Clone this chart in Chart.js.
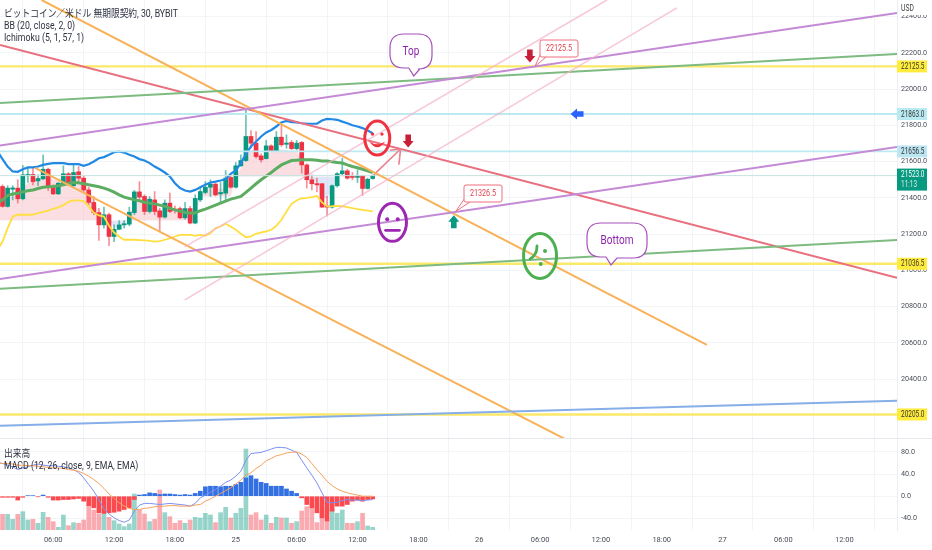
<!DOCTYPE html>
<html><head><meta charset="utf-8">
<style>
html,body{margin:0;padding:0;background:#fff;width:932px;height:550px;overflow:hidden}
canvas{position:absolute;left:0}
.t{position:absolute;left:4px;font:10.4px/11px Roboto,"Noto Sans CJK JP",sans-serif;height:11px;color:#2f3340;white-space:nowrap;z-index:5;transform:scaleX(.84);transform-origin:left center}
</style>
<script src="https://cdn.jsdelivr.net/npm/chart.js@4"></script>
</head><body>
<canvas id="main" width="932" height="438" style="top:0"></canvas>
<canvas id="sub" width="932" height="112" style="top:438px"></canvas>
<div class="t" style="top:8px;">ビットコイン／米ドル 無期限契約, 30, BYBIT</div>
<div class="t" style="top:20px;">BB (20, close, 2, 0)</div>
<div class="t" style="top:32px;">Ichimoku (5, 1, 57, 1)</div>
<div class="t" style="top:448px;">出来高</div>
<div class="t" style="top:460px;">MACD (12, 26, close, 9, EMA, EMA)</div>
<script>
const firstBar=-46;
const opens=[21463,21353,21448,21454,21395,21522,21529,21494,21505,21558,21459,21422,21478,21533,21467,21544,21509,21444,21375,21319,21251,21307,21187,21227,21251,21255,21319,21433,21408,21325,21389,21329,21294,21371,21338,21341,21290,21341,21261,21389,21430,21459,21476,21422,21426,21513,21459,21577,21606,21739,21702,21632,21617,21687,21661,21735,21696,21706,21672,21706,21582,21500,21478,21478,21356,21349,21467,21533,21549,21518,21513,21522,21452,21507];
const highs=[21472,21467,21467,21500,21579,21564,21564,21527,21638,21564,21472,21485,21577,21540,21581,21573,21522,21459,21408,21343,21349,21316,21251,21275,21275,21349,21441,21490,21417,21408,21435,21343,21389,21426,21356,21349,21375,21353,21417,21459,21490,21500,21481,21485,21551,21522,21595,21638,21886,21772,21766,21643,21717,21693,21766,21803,21748,21717,21717,21711,21588,21527,21509,21481,21408,21472,21540,21619,21558,21540,21555,21525,21509,21527];
const lows=[21349,21349,21389,21371,21389,21485,21472,21467,21500,21441,21419,21419,21467,21467,21463,21490,21435,21362,21307,21165,21233,21136,21159,21224,21233,21246,21307,21389,21307,21316,21307,21215,21288,21319,21316,21286,21283,21257,21257,21380,21422,21408,21411,21375,21389,21454,21454,21573,21601,21674,21619,21597,21614,21656,21656,21684,21674,21665,21665,21536,21454,21444,21435,21349,21301,21343,21459,21527,21503,21500,21485,21413,21448,21503];
const closes=[21353,21454,21455,21395,21527,21529,21490,21507,21558,21463,21422,21481,21533,21481,21540,21509,21444,21375,21319,21251,21307,21187,21227,21251,21255,21321,21433,21404,21325,21393,21325,21294,21371,21325,21330,21290,21341,21261,21397,21435,21459,21476,21417,21430,21509,21459,21577,21606,21739,21702,21628,21610,21687,21661,21735,21693,21702,21672,21702,21582,21500,21478,21472,21349,21349,21467,21533,21549,21509,21513,21522,21452,21503,21523];
const bbUpper=[21656,21614,21573,21546,21544,21558,21568,21568,21573,21582,21588,21592,21592,21592,21586,21586,21586,21577,21586,21601,21619,21625,21638,21652,21656,21650,21638,21628,21614,21606,21592,21573,21558,21540,21518,21481,21454,21441,21435,21444,21459,21472,21485,21490,21496,21503,21533,21551,21592,21643,21684,21711,21739,21761,21775,21794,21816,21825,21818,21816,21812,21810,21809,21809,21827,21836,21834,21831,21821,21812,21801,21794,21785,21772,21757];
const bbBasis=[21371,21389,21413,21421,21426,21433,21439,21444,21452,21459,21461,21463,21467,21472,21479,21485,21483,21478,21472,21467,21461,21454,21444,21432,21417,21404,21397,21389,21384,21376,21371,21367,21360,21353,21343,21334,21327,21319,21316,21316,21329,21338,21349,21360,21371,21382,21393,21400,21408,21430,21454,21478,21500,21520,21540,21562,21582,21595,21606,21608,21610,21610,21610,21608,21604,21603,21599,21595,21592,21582,21573,21566,21558,21549,21540];
const conversionLine=[21113,21159,21233,21297,21307,21307,21307,21308,21316,21323,21330,21340,21347,21360,21378,21386,21386,21382,21353,21319,21303,21297,21246,21209,21187,21169,21169,21169,21167,21165,21163,21159,21161,21169,21176,21187,21196,21196,21196,21191,21196,21191,21205,21233,21242,21257,21242,21224,21202,21183,21187,21202,21209,21215,21224,21246,21279,21325,21367,21386,21398,21400,21404,21411,21375,21353,21354,21356,21354,21349,21343,21338,21334,21330,21325];
const spanA=[21380,21389,21398,21408,21417,21459,21481,21500,21503,21527,21527,21500,21500,21527,21527,21527,21527,21500,21444,21389,21316,21307,21279,21233,21239,21251,21307,21371,21389,21380,21362,21362,21316,21334,21343,21334,21316,21316,21307,21353,21408,21444,21467,21459,21448,21467,21481,21518,21564,21638,21665,21661,21628,21638,21656,21674,21665,21665,21656,21656,21610,21527,21500,21485,21398,21398,21444,21509,21527,21518,21514,21518,21510,21515,21518];
const spanB=[21275,21275,21275,21275,21275,21275,21275,21275,21275,21275,21275,21275,21275,21275,21275,21275,21275,21275,21275,21275,21275,21275,21275,21275,21275,21275,21275,21275,21275,21275,21275,21275,21275,21275,21275,21275,21275,21275,21275,21275,21408,21408,21408,21408,21408,21408,21408,21518,21518,21518,21518,21518,21518,21518,21518,21518,21518,21518,21518,21518,21518,21518,21518,21518,21518,21518,21518,21518,21518,21518,21518,21518,21518,21518,21518];
const volumes=[47,47,32,47,55,30,32,20,53,38,25,8,45,13,22,20,30,75,60,48,62,38,28,18,10,18,108,60,48,25,32,120,52,40,20,28,20,30,38,36,50,45,22,52,68,36,50,65,243,45,52,30,45,20,38,36,36,20,25,57,70,65,22,60,25,60,50,60,20,20,25,50,12,8];
const macdHist=[-2,-2,-2,-7,-2,1,1,-1,2,-2,-7,-7,-6,-6,-5,-4,-9,-17,-21,-30,-31,-30,-29,-27,-24,-21,-6,2,3,6,5,3,4,4,3,2,3,2,5,9,17,18,18,17,18,18,21,25,33,37,31,25,23,18,18,18,13,9,5,-3,-15,-21,-30,-39,-45,-27,-18,-18,-15,-9,-7,-9,-6,-5];
const macdLine=[61,59,56,53,48,51,53,56,58,56,55,55,54,53,51,48,43,33,21,9,-6,-23,-32,-39,-44,-47,-43,-27,-16,-13,-13,-14,-15,-14,-13,-14,-15,-16,-18,-13,-3,2,7,12,18,25,29,36,45,65,77,78,79,82,85,88,88,87,83,79,65,51,38,24,6,-11,-12,-11,-8,-6,-7,-7,-8,-7,-6];
const signalLine=[60,59,59,58,56,56,55,55,54,53,52,51,51,50,48,47,45,41,36,30,23,14,4,-4,-12,-18,-22,-24,-24,-22,-21,-19,-18,-18,-17,-17,-18,-18,-18,-16,-15,-9,-5,0,5,10,15,22,29,38,42,50,56,64,68,73,75,78,79,80,76,70,59,48,38,27,19,13,9,6,4,2,0,0,0];
const priceTicks=[20400,20600,20800,21000,21200,21400,21600,21800,22000,22200,22400];
const macdTicks=[-40,0,40,80];
const timeTickBars=[-36,-24,-12,0,12,24,36,48,60,72,84,96,108,120];
const timeTickLabels=["06:00","12:00","18:00","25","06:00","12:00","18:00","26","06:00","12:00","18:00","27","06:00","12:00"];
const xMin=-46.5,xMax=130.4,priceMin=20075,priceMax=22492;
const yellowLevels=[22125.5,21036.5,20205];
const cyanLevels=[21863,21656.5];
const lastPrice=21523;
const trendOrange=[[[-38.3,22492],[92.9,20589]],[[-39.6,21566],[64.9,20070]]];
const trendRed=[[-46.5,22244],[130.4,20959]];
const trendPurple=[[[-46.5,21689],[130.4,22421]],[[-46.5,20953],[130.4,21681]]];
const trendGreen=[[[-46.5,21924],[130.4,22194]],[[-46.5,20898],[130.4,21168]]];
const trendBlue=[[-46.5,20142],[130.4,20280]];
const trendPink=[[[-10.06,21130],[73.2,22492]],[[-10.06,20837],[87,22448]]];
const arrowLine=[[27.2,21527],[32.5,21670]];

const barIdx=opens.map((_,i)=>firstBar+i);
const series=a=>a.map((v,i)=>({x:barIdx[i],y:v}));
const seriesLead=a=>a.map((v,i)=>({x:firstBar-1+i,y:v}));
const line=(pts,color,w,extra)=>Object.assign({type:'line',data:pts.map(p=>({x:p[0],y:p[1]})),borderColor:color,borderWidth:w,pointRadius:0,order:10,fill:false},extra||{});
const UP='#089981',DN='#ee3444';
const font="Roboto,sans-serif";
const isUp=opens.map((o,i)=>closes[i]>=o);
const hline=(v,c,w,o)=>line([[xMin,v],[xMax,v]],c,w,{order:o||12});

const datasets=[
 {type:'line',data:seriesLead(spanA),borderWidth:0,borderColor:'transparent',pointRadius:0,order:50,
  fill:{target:'+1',above:'rgba(247,190,195,.5)',below:'rgba(190,205,240,.5)'}},
 {type:'line',data:seriesLead(spanB),borderWidth:0,borderColor:'transparent',pointRadius:0,order:51,fill:false},
 {type:'bar',grouped:false,order:40,barThickness:1,data:barIdx.map((x,i)=>({x,y:[lows[i],highs[i]]})),
  backgroundColor:isUp.map(u=>u?'rgba(8,153,129,.6)':'rgba(238,52,68,.55)')},
 {type:'bar',grouped:false,order:39,barThickness:4,minBarLength:1.2,data:barIdx.map((x,i)=>({x,y:[opens[i],closes[i]]})),
  backgroundColor:isUp.map(u=>u?UP:DN)},
 {type:'line',data:seriesLead(bbUpper),borderColor:'#2189e3',borderWidth:2.2,pointRadius:0,order:30,fill:false},
 {type:'line',data:seriesLead(conversionLine),borderColor:'#ffdf3f',borderWidth:1.8,pointRadius:0,order:31,fill:false},
 {type:'line',data:seriesLead(bbBasis),borderColor:'#5cad62',borderWidth:3,pointRadius:0,order:29,fill:false},
 hline(lastPrice,'#c5e4df',1,15),
 ...yellowLevels.map(v=>hline(v,'#fbe96a',2.4)),
 ...cyanLevels.map(v=>hline(v,'#bdeaf0',1.8)),
 ...trendPink.map(p=>line(p,'rgba(244,180,200,.75)',1.5)),
 ...trendPurple.map(p=>line(p,'#c48ad6',2)),
 ...trendGreen.map(p=>line(p,'#7dbb80',2)),
 line(trendBlue,'#86aee8',2),
 ...trendOrange.map(p=>line(p,'#f8b25a',2)),
 line(trendRed,'#e9707f',2.2),
 line(arrowLine,'#ee7f8f',1.6)
];

function label(c,text,x,y,size,color,sx,align){
 c.save();c.translate(x,y);c.scale(sx,1);c.fillStyle=color;c.font=size+"px "+font;c.textAlign=align;c.textBaseline='middle';c.fillText(text,0,0);c.restore();
}
function bubble(c,ax,ay,x,y,w,h,text,tx){
 c.lineWidth=1.2;c.strokeStyle='#a650bb';c.fillStyle='#fff';
 c.beginPath();c.moveTo(x+14,y);c.lineTo(x+w-14,y);c.quadraticCurveTo(x+w,y,x+w,y+14);c.lineTo(x+w,y+h-14);c.quadraticCurveTo(x+w,y+h,x+w-14,y+h);
 c.lineTo(ax+6,y+h);c.lineTo(ax,ay);c.lineTo(ax-5,y+h-1);c.lineTo(x+14,y+h-1);c.quadraticCurveTo(x,y+h-1,x,y+h-15);c.lineTo(x,y+14);c.quadraticCurveTo(x,y,x+14,y);c.closePath();c.fill();c.stroke();
 label(c,text,tx,y+h/2,12.5,'#8e24aa',.8,'center');
}
function priceNote(c,ax,ay,text,x,y){
 c.strokeStyle='#ef6f7e';c.lineWidth=1;c.fillStyle='#fff';
 c.beginPath();c.moveTo(ax,ay);c.lineTo(x+6,y+17);c.moveTo(ax,ay);c.lineTo(x+1,y+13);c.stroke();
 c.beginPath();c.roundRect(x,y,38,17,2);c.fill();c.stroke();
 label(c,text,x+19,y+9,9,'#e5404f',.8,'center');
}
function arrow(c,px,py,dir,color){
 c.save();c.translate(px,py);c.rotate(dir);c.fillStyle=color;
 c.beginPath();c.moveTo(0,-6.5);c.lineTo(5.5,0);c.lineTo(2.8,0);c.lineTo(2.8,6.5);c.lineTo(-2.8,6.5);c.lineTo(-2.8,0);c.lineTo(-5.5,0);c.closePath();c.fill();c.restore();
}
function dot(c,x,y,r){c.beginPath();c.arc(x,y,r,0,7);c.fill();}
function face(c,px,py,rx,ry,color,kind){
 c.save();c.translate(px,py);c.strokeStyle=color;c.fillStyle=color;c.lineWidth=3;c.lineCap='round';
 c.beginPath();c.ellipse(0,0,rx,ry,0,0,Math.PI*2);c.stroke();
 if(kind==='smile'){
  dot(c,-4.7,-4,1.7);dot(c,4.7,-4,1.7);
  c.beginPath();c.moveTo(-8,3.5);c.quadraticCurveTo(0,9,8,3.5);c.quadraticCurveTo(0,15,-8,3.5);c.fill();
 }
 if(kind==='flat'){
  dot(c,-5.3,-3,2);dot(c,5.3,-3,2);
  c.lineWidth=2.6;c.beginPath();c.moveTo(-7,8);c.lineTo(7,8);c.stroke();
 }
 if(kind==='sad'){
  dot(c,5,-5,2);dot(c,.7,8,2);
  c.lineWidth=2.8;c.beginPath();c.moveTo(-3,-10);c.quadraticCurveTo(-3,-1,-10,3);c.stroke();
 }
 c.restore();
}
const tags=[[22125.5,'#ffeb3b','#333'],[21863,'#b9eaf2','#333'],[21656.5,'#bde6f3','#333'],[21036.5,'#ffeb3b','#333'],[20205,'#ffeb3b','#333']];
const annot={id:'annot',afterDatasetsDraw(ch){
 const c=ch.ctx,X=ch.scales.x,Y=ch.scales.y,px=v=>X.getPixelForValue(v),py=v=>Y.getPixelForValue(v);
 c.save();
 const b=arrowLine[1];const ex=px(b[0]),ey=py(b[1]);
 c.strokeStyle='#ee7f8f';c.lineWidth=1.6;c.beginPath();c.moveTo(ex-10.7,ey+1.3);c.lineTo(ex,ey);c.lineTo(ex-1.7,ey+15.7);c.stroke();
 face(c,px(27.9),py(21730),12.5,17,'#f0323f','smile');
 face(c,px(30.9),py(21265),14,19,'#9c27b0','flat');
 face(c,px(60),py(21080),16.5,22.5,'#4caf50','sad');
 arrow(c,px(34),py(21714),Math.PI,'#c62038');
 arrow(c,px(58),py(22183),Math.PI,'#c62038');
 arrow(c,px(43),py(21268),0,'#089981');
 arrow(c,px(67.3),py(21863),-Math.PI/2,'#2962ff');
 bubble(c,px(35.1),py(22073),390,34,42,35,'Top',411);
 bubble(c,px(74),py(21030),587,223,60,35,'Bottom',617);
 priceNote(c,px(59),py(22125.5),'22125.5',540,40);
 priceNote(c,px(43.4),py(21326.5),'21326.5',464,185);
 c.restore();
},afterDraw(ch){
 const c=ch.ctx,Y=ch.scales.y;
 c.save();
 c.fillStyle='#fff';c.fillRect(898,0,34,15);label(c,'USD',901,9,8.5,'#444',.8,'left');
 tags.forEach(t=>{const y=Y.getPixelForValue(t[0]);c.fillStyle=t[1];c.fillRect(897,y-6,30,12);label(c,t[0].toFixed(1),901,y+.5,8.5,t[2],.76,'left');});
 const y=Y.getPixelForValue(lastPrice);c.fillStyle='#089981';c.fillRect(897,y-7,30,22);label(c,lastPrice.toFixed(1),901,y-1,8.5,'#fff',.76,'left');label(c,'11:13',901,y+9,8.5,'rgba(255,255,255,.85)',.76,'left');
 c.restore();
}};
const grid='rgba(238,241,246,.75)';
const axisW=function(s){s.width=35;s.paddingTop=0;s.paddingBottom=0;};
const tickFont={family:font,size:7.2};
new Chart(document.getElementById('main'),{type:'bar',data:{datasets},plugins:[annot],options:{
 responsive:false,animation:false,events:[],layout:{padding:0,autoPadding:false},
 plugins:{legend:{display:false},tooltip:{enabled:false}},
 scales:{
  x:{type:'linear',min:xMin,max:xMax,offset:false,grid:{color:grid,drawTicks:false},border:{display:false},ticks:{display:false},
     afterBuildTicks:s=>{s.ticks=timeTickBars.map(v=>({value:v}));},afterFit:s=>{s.height=0;s.paddingLeft=0;s.paddingRight=0;}},
  y:{type:'linear',position:'right',min:priceMin,max:priceMax,grid:{color:grid,drawTicks:false},border:{color:'#eceef2'},
     afterBuildTicks:s=>{s.ticks=priceTicks.map(v=>({value:v}));},afterFit:axisW,
     ticks:{color:'#4a4e59',font:tickFont,padding:4,callback:v=>v.toFixed(1)}}
 }}});
const subData=[
 {type:'bar',grouped:false,yAxisID:'v',order:30,barThickness:4,data:series(volumes),backgroundColor:isUp.map(u=>u?'rgba(8,153,129,.42)':'rgba(242,54,69,.42)')},
 {type:'bar',grouped:false,yAxisID:'y',order:20,barThickness:4,data:series(macdHist),backgroundColor:macdHist.map(v=>v>=0?'#3371e3':'#fb4a4f')},
 {type:'line',yAxisID:'y',order:10,data:seriesLead(macdLine),borderColor:'#7d8ff0',borderWidth:1,pointRadius:0,fill:false},
 {type:'line',yAxisID:'y',order:9,data:seriesLead(signalLine),borderColor:'#f5a05c',borderWidth:1,pointRadius:0,fill:false}
];
const sep={id:'sep',afterDraw(ch){const c=ch.ctx;c.save();c.strokeStyle='#e6e8ee';c.lineWidth=1;c.beginPath();c.moveTo(0,.5);c.lineTo(932,.5);c.stroke();c.restore();}};
new Chart(document.getElementById('sub'),{type:'bar',data:{datasets:subData},plugins:[sep],options:{
 responsive:false,animation:false,events:[],layout:{padding:0,autoPadding:false},
 plugins:{legend:{display:false},tooltip:{enabled:false}},
 scales:{
  x:{type:'linear',min:xMin,max:xMax,offset:false,grid:{color:grid,drawTicks:false},border:{display:false},
     afterBuildTicks:s=>{s.ticks=timeTickBars.map(v=>({value:v}));},afterFit:s=>{s.height=20;s.paddingLeft=0;s.paddingRight=0;},
     ticks:{color:'#4a4e59',font:{family:font,size:7.5},padding:6,maxRotation:0,autoSkip:false,
       callback:v=>timeTickLabels[timeTickBars.indexOf(v)]}},
  y:{type:'linear',position:'right',min:-61,max:105,grid:{color:grid,drawTicks:false},border:{color:'#eceef2'},
     afterBuildTicks:s=>{s.ticks=macdTicks.map(v=>({value:v}));},afterFit:axisW,
     ticks:{color:'#4a4e59',font:tickFont,padding:4,callback:v=>v.toFixed(1)}},
  v:{type:'linear',display:false,min:0,max:276}
 }}});
</script>
</body></html>
